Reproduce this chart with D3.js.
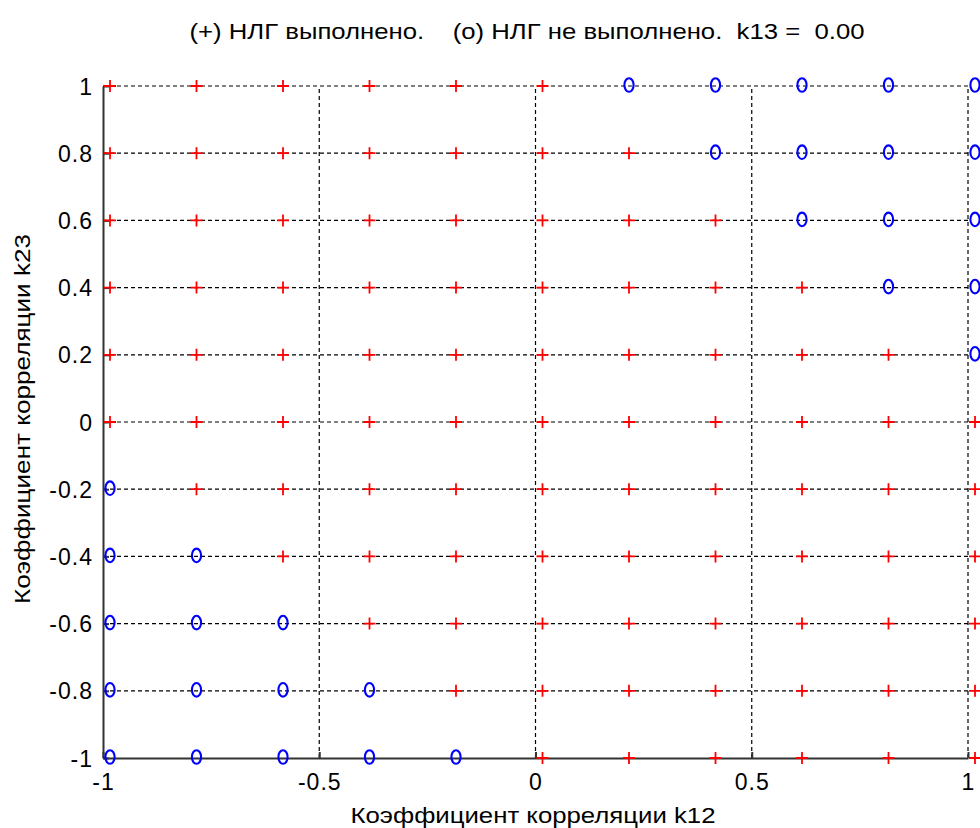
<!DOCTYPE html>
<html>
<head>
<meta charset="utf-8">
<script src="https://cdn.jsdelivr.net/npm/d3@7"></script>
<style>
  body { margin: 0; background: #fff; }
  text { font-family: "Liberation Sans", Arial, sans-serif; white-space: pre; }
</style>
</head>
<body>
<div id="chart"></div>
<script>
// grid of k12 (x) and k23 (y) values
var k12 = [-1, -0.8, -0.6, -0.4, -0.2, 0, 0.2, 0.4, 0.6, 0.8, 1];
var k23 = [1, 0.8, 0.6, 0.4, 0.2, 0, -0.2, -0.4, -0.6, -0.8, -1];
// result for each row of k23 (same order), one char per k12: + ok, o not ok
var marks = [
  "++++++ooooo",
  "+++++++oooo",
  "++++++++ooo",
  "+++++++++oo",
  "++++++++++o",
  "+++++++++++",
  "o++++++++++",
  "oo+++++++++",
  "ooo++++++++",
  "oooo+++++++",
  "ooooo++++++"
];
var xTicks = [-1, -0.5, 0, 0.5, 1];
var yTicks = [-1, -0.8, -0.6, -0.4, -0.2, 0, 0.2, 0.4, 0.6, 0.8, 1];
var title = "(+) НЛГ выполнено.    (o) НЛГ не выполнено.  k13 =  0.00";

var W = 980, H = 828;
var margin = {left: 103, right: 12, top: 86, bottom: 70};

var svg = d3.select("#chart").append("svg")
  .attr("width", W).attr("height", H);

var x = d3.scaleLinear().domain([-1, 1]).range([margin.left, W - margin.right]);
var y = d3.scaleLinear().domain([-1, 1]).range([H - margin.bottom, margin.top]);

// dashed grid
svg.append("g").selectAll("line").data(yTicks.slice(1)).join("line")
  .attr("x1", x(-1)).attr("x2", x(1))
  .attr("y1", d => y(d)).attr("y2", d => y(d))
  .attr("stroke", "#000").attr("stroke-width", 1.2).attr("stroke-dasharray", "4,3");
svg.append("g").selectAll("line").data(xTicks.slice(1)).join("line")
  .attr("y1", y(-1)).attr("y2", y(1))
  .attr("x1", d => x(d)).attr("x2", d => x(d))
  .attr("stroke", "#000").attr("stroke-width", 1.2).attr("stroke-dasharray", "4,3");

// axes
var xAxis = d3.axisBottom(x).tickValues(xTicks).tickSizeInner(-6).tickSizeOuter(0)
  .tickPadding(11).tickFormat(d => String(d));
var yAxis = d3.axisLeft(y).tickValues(yTicks).tickSizeInner(-6).tickSizeOuter(0)
  .tickPadding(10).tickFormat(d => String(d));

var gx = svg.append("g").attr("transform", "translate(0," + y(-1) + ")").call(xAxis);
var gy = svg.append("g").attr("transform", "translate(" + x(-1) + ",0)").call(yAxis);
[gx, gy].forEach(function(g) {
  g.select(".domain").attr("stroke", "#333").attr("stroke-width", 2);
  g.selectAll(".tick line").attr("stroke", "#333").attr("stroke-width", 2);
  g.selectAll(".tick text").attr("fill", "#000")
    .style("font-family", "Liberation Sans, Arial, sans-serif").style("font-size", "23px")
    .style("letter-spacing", "1px");
});
gx.selectAll(".tick text").attr("dy", "0.9em");
gy.selectAll(".tick text").attr("dy", "0.35em");

// markers
var pts = [];
k23.forEach(function(v, i) {
  k12.forEach(function(u, j) {
    pts.push({k12: u, k23: v, s: marks[i].charAt(j)});
  });
});
var off = 7;
var mk = svg.append("g");
mk.selectAll("path.plus").data(pts.filter(d => d.s === "+")).join("path")
  .attr("class", "plus")
  .attr("d", function(d) {
    var cx = x(d.k12) + off, cy = y(d.k23);
    return "M" + (cx - 6) + "," + cy + "H" + (cx + 6) + "M" + cx + "," + (cy - 6) + "V" + (cy + 6);
  })
  .attr("stroke", "#ff0000").attr("stroke-width", 1.8).attr("fill", "none");
mk.selectAll("ellipse").data(pts.filter(d => d.s === "o")).join("ellipse")
  .attr("cx", d => x(d.k12) + off).attr("cy", d => y(d.k23) - 1)
  .attr("rx", 4.6).attr("ry", 6.8)
  .attr("stroke", "#0000ff").attr("stroke-width", 2.1).attr("fill", "none");

// titles
svg.append("text").attr("x", 527).attr("y", 39).attr("text-anchor", "middle")
  .style("font-size", "22px").attr("textLength", 675).attr("lengthAdjust", "spacingAndGlyphs")
  .text(title);
svg.append("text").attr("x", 533).attr("y", 823).attr("text-anchor", "middle")
  .style("font-size", "22px").attr("textLength", 365).attr("lengthAdjust", "spacingAndGlyphs")
  .text("Коэффициент корреляции k12");
svg.append("text").attr("transform", "translate(30,419) rotate(-90)")
  .attr("text-anchor", "middle").style("font-size", "22px")
  .attr("textLength", 370).attr("lengthAdjust", "spacingAndGlyphs")
  .text("Коэффициент корреляции k23");
</script>
</body>
</html>
